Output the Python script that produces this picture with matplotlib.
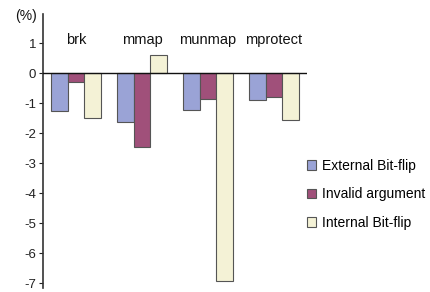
import matplotlib
matplotlib.use("Agg")
import matplotlib.pyplot as plt
import numpy as np

plt.rcParams['font.family'] = ['Liberation Sans', 'DejaVu Sans']

categories = ["brk", "mmap", "munmap", "mprotect"]
series_names = ["External Bit-flip", "Invalid argument", "Internal Bit-flip"]
external = [-1.25, -1.63, -1.22, -0.9]
invalid = [-0.3, -2.46, -0.87, -0.8]
internal = [-1.5, 0.6, -6.92, -1.55]
yticks = [1, 0, -1, -2, -3, -4, -5, -6, -7]

colors = ["#9AA3D6", "#A0507A", "#F4F2D6"]
edge = "#555555"

fig = plt.figure(figsize=(4.3, 2.92), dpi=100)
ax = fig.add_axes([0.1, 0.0137, 0.614, 0.940])

x = np.arange(len(categories))
w = 0.25
for i, (vals, name) in enumerate(zip([external, invalid, internal], series_names)):
    ax.bar(x + (i - 1) * w, vals, width=w, color=colors[i], edgecolor=edge,
           linewidth=0.8, label=name, zorder=2)

ax.axhline(0, color="#111111", linewidth=1.0, zorder=3)
ax.set_xlim(-0.5, 3.5)
ax.set_ylim(-7.15, 1.99)
ax.set_yticks(yticks)
ax.set_yticklabels([str(t) for t in yticks], fontsize=9.5)
ax.tick_params(axis='y', direction='out', length=3, width=0.8, pad=2, colors='#222222')
ax.set_xticks([])
for s in ["top", "right", "bottom"]:
    ax.spines[s].set_visible(False)
ax.spines["left"].set_color("#333333")
ax.spines["left"].set_linewidth(1.2)

for xi, c in zip(x, categories):
    ax.text(xi, 1.1, c, ha="center", va="center", fontsize=10.5, color="#111111")

fig.text(0.035, 0.945, "(%)", fontsize=10, color="#111111", ha="left", va="center")

leg = fig.legend(loc="upper left", bbox_to_anchor=(0.7, 0.475), frameon=False,
                 fontsize=10, handlelength=0.7, handleheight=0.7, handletextpad=0.4,
                 labelspacing=1.05, borderaxespad=0)

fig.savefig("out.png", dpi=100)
